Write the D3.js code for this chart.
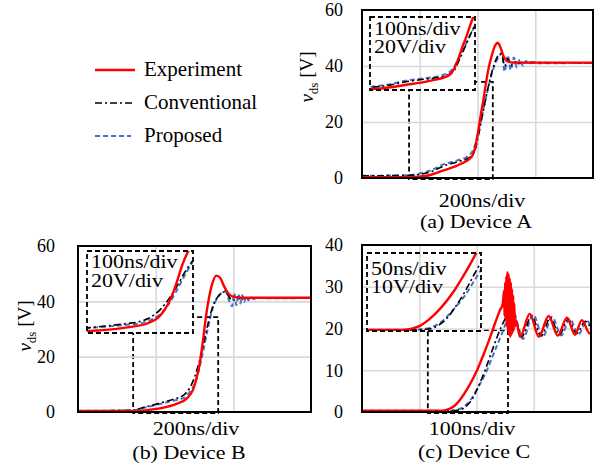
<!DOCTYPE html>
<html>
<head>
<meta charset="utf-8">
<script src="https://cdn.jsdelivr.net/npm/d3@7"></script>
<style>
  body { margin: 0; background: #fff; }
  text { font-family: "Liberation Serif", "Times New Roman", serif; fill: #000; }
</style>
</head>
<body>
<div id="chart"></div>
<script>
// ---- data (time in ns, voltage in V) ----
const seriesNames = ["Experiment", "Conventional", "Proposed"];
const panelTitles = ["(a) Device A", "(b) Device B", "(c) Device C"];
const timeDivLabels = ["200ns/div", "200ns/div", "100ns/div"];
const insetLabelsA = ["100ns/div", "20V/div"];
const insetLabelsB = ["100ns/div", "20V/div"];
const insetLabelsC = ["50ns/div", "10V/div"];
const voltTicksAB = [0, 20, 40, 60];
const voltTicksC = [0, 10, 20, 30, 40];
const timeGridA = [200, 400, 600];
const timeGridB = [200, 400];
const timeGridC = [100, 200, 300];

const expA = [[0,0.3],[165,0.3],[225,0.8],[280,2.6],[339,4.9],[380,7.6],[392,11],[403,17],[412,23],[419,27],[428,33],[436,38],[450,44],[462,47.5],[470,48.3],[480,46.5],[490,43.5],[500,42],[512,41.4],[540,41.2],[800,41.2]];
const convA = [[0,0.8],[160,0.9],[200,1.3],[240,2.3],[280,4.2],[330,5.8],[370,7.2],[390,9.5],[405,16],[420,24],[436,32],[453,39],[470,43.5],[484,44.5],[494,40],[505,42.6],[516,40.2],[530,41.5],[545,40.9],[570,41.2],[800,41.1]];
const propA = [[0,0.8],[160,1.0],[200,1.6],[240,2.8],[280,4.8],[330,6.3],[365,7.7],[385,10],[400,15],[415,22],[430,29],[445,35.5],[460,40.5],[475,43.5],[484,44.6],[494,38],[505,43.8],[515,38.6],[526,43],[536,39.5],[547,42.4],[557,40.2],[568,41.8],[578,40.6],[590,41.4],[605,41],[800,41.1]];

const expB = [[0,0.4],[150,0.4],[180,0.7],[211,1.3],[255,3],[281,5],[296,8],[305,12],[314,18],[322,26],[329,34],[337,41],[346,46.5],[356,49.3],[366,48.5],[376,45.5],[386,43],[397,41.8],[420,41.3],[600,41.3]];
const convB = [[0,0.4],[140,0.6],[170,1.7],[211,3.2],[250,4.8],[271,6],[289,9],[300,12.5],[310,17],[320,22.5],[335,32],[348,38.5],[362,42],[379,43.5],[392,41],[400,40.2],[410,41.5],[425,40.8],[445,41.3],[600,41.2]];
const propB = [[0,0.4],[140,0.6],[170,1.5],[211,2.9],[250,4.2],[271,5],[289,7.5],[300,10],[310,14.5],[320,20.5],[335,30.6],[348,38],[362,41.8],[379,43.7],[390,40],[397,38.2],[402,43],[408,38.6],[413,42.6],[418,39.2],[423,42.2],[428,39.8],[433,41.9],[439,40.4],[445,41.6],[452,40.8],[462,41.4],[475,41.1],[600,41.2]];

const expC = [[0,0.3],[140,0.3],[150,0.6],[160,1.3],[171,2.9],[186,6],[201,10],[213,14],[224,18],[233,21.5],[241,24.4],[246,26],[248,29],[249,23],[250,31],[251,22],[252,32.5],[253,20.5],[254,33.5],[255,19.5],[256,33],[257,18.5],[258,32],[259,18],[260,31],[261,18.5],[262,29.5],[263,19],[264,28],[265,19.5],[266,26],[267,20.5],[269,22],[276,18],[293,23.5],[309,18],[326,23],[342,18.3],[358,22.6],[372,18.5],[384,22],[398,18.8],[400,19]];
const convC = [[0,0.3],[150,0.3],[170,0.5],[183,1.5],[193,3.2],[203,6],[215,10],[228,15],[242,20],[253,23],[262,24.6],[270,21.5],[279,18],[296,23],[313,18.2],[329,22.6],[345,18.5],[360,22.2],[375,18.8],[390,21.7],[400,20]];
const propC = [[0,0.3],[150,0.3],[165,0.5],[180,1.5],[190,3],[201,5.5],[215,9],[230,14],[245,19],[255,22.5],[264,24.4],[272,21],[281,17.5],[299,23.3],[316,18],[332,22.8],[348,18.3],[363,22.3],[378,18.6],[393,21.8],[400,20.5]];

// zoomed windows [t0, t1, v0, v1]: what the inset shows, and the marked region
const insetWinA = [200, 440, 0, 38], regionA = [163, 453, 0, 34.3];
const insetWinB = [195, 345, 0, 42], regionB = [142, 361, 0, 34.3];
const insetWinC = [95, 235, 0, 20], regionC = [115, 255, 0, 19.6];

// ---- styles ----
const styles = [
  {color: "#ff0000", width: 2.4, dash: null},
  {color: "#000000", width: 1.6, dash: "7,3,2,3"},
  {color: "#4472c4", width: 2, dash: "5,3"}
];

const panels = [
  {x0: 362, x1: 593, y0: 10, y1: 178, tMax: 800, vMax: 60, vTicks: voltTicksAB, grid: timeGridA,
   data: [expA, convA, propA], title: panelTitles[0], div: timeDivLabels[0],
   titleX: 476, titleY: 228, divX: 482, divY: 207, tickPad: 19, ylab: [313, 77],
   inset: {x0: 370, x1: 475, y0: 17, y1: 90, win: insetWinA, region: regionA, labels: insetLabelsA, lx: 374, ly: [35, 53]}},
  {x0: 78, x1: 311, y0: 246, y1: 412, tMax: 600, vMax: 60, vTicks: voltTicksAB, grid: timeGridB,
   data: [expB, convB, propB], title: panelTitles[1], div: timeDivLabels[1],
   titleX: 189, titleY: 459, divX: 196, divY: 435, tickPad: 23, ylab: [31, 326],
   inset: {x0: 87, x1: 193, y0: 251, y1: 333, win: insetWinB, region: regionB, labels: insetLabelsB, lx: 91, ly: [268, 287]}},
  {x0: 362, x1: 591, y0: 245, y1: 412, tMax: 400, vMax: 40, vTicks: voltTicksC, grid: timeGridC,
   data: [expC, convC, propC], title: panelTitles[2], div: timeDivLabels[2],
   titleX: 474, titleY: 458, divX: 472, divY: 435, tickPad: 19, ylab: null,
   inset: {x0: 367, x1: 481, y0: 253, y1: 331, win: insetWinC, region: regionC, labels: insetLabelsC, lx: 371, ly: [275, 293]}}
];

const svg = d3.select("#chart").append("svg")
  .attr("width", 606).attr("height", 469);

const stretch = 1.22;
function wideText(parent, x, y, str, anchor) {
  return parent.append("text")
    .attr("transform", "translate(" + x + "," + y + ") scale(" + stretch + ",1)")
    .attr("text-anchor", anchor)
    .style("font-size", "18px")
    .text(str);
}

function styleLine(path, s) {
  path.attr("fill", "none")
    .attr("stroke", s.color)
    .attr("stroke-width", s.width)
    .attr("stroke-dasharray", s.dash)
    .attr("stroke-linejoin", "round");
}

panels.forEach((p, i) => {
  const g = svg.append("g");
  const x = d3.scaleLinear().domain([0, p.tMax]).range([p.x0, p.x1]);
  const y = d3.scaleLinear().domain([0, p.vMax]).range([p.y1, p.y0]);

  // clip for main plot
  g.append("clipPath").attr("id", "clip" + i)
    .append("rect").attr("x", p.x0).attr("y", p.y0 - 2)
    .attr("width", p.x1 - p.x0).attr("height", p.y1 - p.y0 + 2);

  // marked region (drawn first, inset box hides part of it)
  const r = p.inset.region;
  g.append("rect")
    .attr("x", x(r[0])).attr("y", y(r[3]))
    .attr("width", x(r[1]) - x(r[0])).attr("height", y(r[2]) - y(r[3]) + 1)
    .attr("fill", "none").attr("stroke", "#000")
    .attr("stroke-width", 1.8).attr("stroke-dasharray", "5,3");

  // white area of inset
  const ins = p.inset;
  g.append("rect").attr("x", ins.x0).attr("y", ins.y0)
    .attr("width", ins.x1 - ins.x0).attr("height", ins.y1 - ins.y0)
    .attr("fill", "#fff");

  // grid
  g.append("g")
    .attr("transform", "translate(0," + p.y1 + ")")
    .call(d3.axisBottom(x).tickValues(p.grid).tickSize(-(p.y1 - p.y0)).tickFormat(""))
    .call(a => a.select(".domain").remove())
    .call(a => a.selectAll("line").attr("stroke", "#d9d9d9").attr("stroke-width", 1.6));
  g.append("g")
    .attr("transform", "translate(" + p.x0 + ",0)")
    .call(d3.axisLeft(y).tickValues(p.vTicks.slice(1, -1)).tickSize(-(p.x1 - p.x0)).tickFormat(""))
    .call(a => a.select(".domain").remove())
    .call(a => a.selectAll("line").attr("stroke", "#d9d9d9").attr("stroke-width", 1.6));

  // y tick labels
  g.append("g")
    .attr("transform", "translate(" + p.x0 + ",0)")
    .call(d3.axisLeft(y).tickValues(p.vTicks).tickSize(0).tickPadding(p.tickPad).tickFormat(d3.format("d")))
    .call(a => a.select(".domain").remove())
    .call(a => a.selectAll("text").style("font-size", "18px")
      .style("font-family", "Liberation Serif, serif"));

  // main curves (proposed and conventional under the red experiment)
  const line = d3.line().x(d => x(d[0])).y(d => y(d[1])).curve(d3.curveMonotoneX);
  [2, 1, 0].forEach(k => {
    g.append("path").datum(p.data[k])
      .attr("clip-path", "url(#clip" + i + ")")
      .attr("d", line)
      .call(path => styleLine(path, styles[k]));
  });

  // inset curves
  const xi = d3.scaleLinear().domain([ins.win[0], ins.win[1]]).range([ins.x0, ins.x1]);
  const yi = d3.scaleLinear().domain([ins.win[2], ins.win[3]]).range([ins.y1, ins.y0]);
  g.append("clipPath").attr("id", "iclip" + i)
    .append("rect").attr("x", ins.x0).attr("y", ins.y0)
    .attr("width", ins.x1 - ins.x0).attr("height", ins.y1 - ins.y0);
  const iline = d3.line().x(d => xi(d[0])).y(d => yi(d[1])).curve(d3.curveMonotoneX);
  [2, 1, 0].forEach(k => {
    g.append("path").datum(p.data[k])
      .attr("clip-path", "url(#iclip" + i + ")")
      .attr("d", iline)
      .call(path => styleLine(path, styles[k]));
  });
  g.append("rect").attr("x", ins.x0).attr("y", ins.y0)
    .attr("width", ins.x1 - ins.x0).attr("height", ins.y1 - ins.y0)
    .attr("fill", "none").attr("stroke", "#000")
    .attr("stroke-width", 1.8).attr("stroke-dasharray", "5,3");
  ins.labels.forEach((t, j) => wideText(g, ins.lx, ins.ly[j], t, "start"));

  // frame
  g.append("rect").attr("x", p.x0).attr("y", p.y0)
    .attr("width", p.x1 - p.x0).attr("height", p.y1 - p.y0)
    .attr("fill", "none").attr("stroke", "#000").attr("stroke-width", 2);

  // texts
  wideText(g, p.divX, p.divY, p.div, "middle");
  wideText(g, p.titleX, p.titleY, p.title, "middle");

  if (p.ylab) {
    const yl = g.append("text")
      .attr("transform", "translate(" + p.ylab[0] + "," + p.ylab[1] + ") rotate(-90)")
      .attr("text-anchor", "middle")
      .style("font-size", "19px");
    yl.append("tspan").style("font-style", "italic").text("v");
    yl.append("tspan").attr("dy", 5).style("font-size", "13px").text("ds");
    yl.append("tspan").attr("dy", -5).text(" [V]");
  }
});

// legend
const legend = svg.append("g").attr("transform", "translate(95,0)");
const legendY = [70, 103, 136];
seriesNames.forEach((name, k) => {
  legend.append("line")
    .attr("x1", 0).attr("x2", 40 - k * 2)
    .attr("y1", legendY[k]).attr("y2", legendY[k])
    .call(l => styleLine(l, styles[k]));
  legend.append("text")
    .attr("x", 49).attr("y", legendY[k] + 6)
    .style("font-size", "21px")
    .text(name);
});
</script>
</body>
</html>
